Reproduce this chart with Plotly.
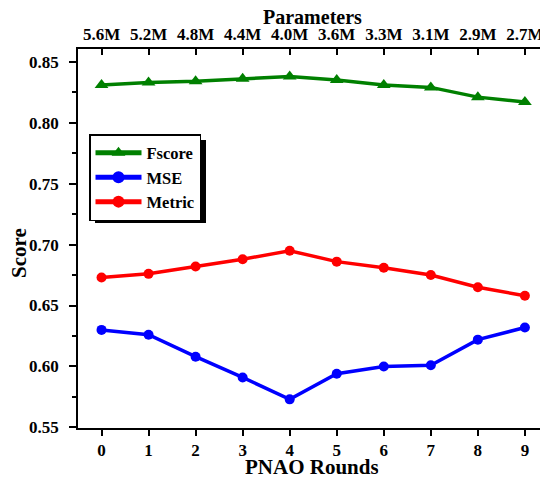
import plotly.graph_objects as go

rounds = [0, 1, 2, 3, 4, 5, 6, 7, 8, 9]
params = ["5.6M", "5.2M", "4.8M", "4.4M", "4.0M", "3.6M", "3.3M", "3.1M", "2.9M", "2.7M"]
fscore = [0.831, 0.833, 0.834, 0.836, 0.838, 0.835, 0.831, 0.829, 0.821, 0.817]
mse = [0.630, 0.626, 0.608, 0.591, 0.573, 0.594, 0.600, 0.601, 0.622, 0.632]
metric = [0.673, 0.676, 0.682, 0.688, 0.695, 0.686, 0.681, 0.675, 0.665, 0.658]
yticks = [0.55, 0.60, 0.65, 0.70, 0.75, 0.80, 0.85]

FONT = "Liberation Serif"
OFF = 8  # page body margin offset
W, H = 548 - OFF, 479 - OFF
ML, MR, MT, MB = 78 - OFF, 1, 49 - OFF, 51

fig = go.Figure()
fig.add_trace(go.Scatter(x=rounds, y=fscore, name="Fscore", mode="lines+markers",
                         line=dict(color="#008000", width=3.5),
                         marker=dict(symbol="triangle-up", size=12, color="#008000")))
fig.add_trace(go.Scatter(x=rounds, y=mse, name="MSE", mode="lines+markers",
                         line=dict(color="#0000FF", width=3.5),
                         marker=dict(symbol="circle", size=10, color="#0000FF")))
fig.add_trace(go.Scatter(x=rounds, y=metric, name="Metric", mode="lines+markers",
                         line=dict(color="#FF0000", width=3.5),
                         marker=dict(symbol="circle", size=10, color="#FF0000")))
fig.add_trace(go.Scatter(x=rounds, y=fscore, xaxis="x2", mode="markers",
                         marker=dict(opacity=0), showlegend=False, hoverinfo="skip"))

xr = [-0.5, 9.47]
pw = W - ML - MR
ph = H - MT - MB


def px_x(p):
    # p: pixel in page coords
    return (p - OFF - ML) / pw


def px_y(p):
    return (H - MB - (p - OFF)) / ph


LEG_L, LEG_T, LEG_W, LEG_H = 89, 134, 112, 84
SH = 5

tickfont = dict(family=FONT, size=17, weight="bold")
fig.update_layout(
    width=W, height=H,
    margin=dict(l=ML, r=MR, t=MT, b=MB),
    paper_bgcolor="white", plot_bgcolor="white",
    font=dict(family=FONT, size=17, color="black"),
    xaxis=dict(range=xr, tickvals=rounds, ticktext=[str(r) for r in rounds], automargin=False,
               showline=True, linecolor="black", linewidth=1.5, mirror=False,
               ticks="outside", ticklen=6, tickwidth=1.5, tickcolor="black",
               showgrid=False, zeroline=False, tickfont=tickfont),
    xaxis2=dict(range=xr, overlaying="x", side="top", tickvals=rounds, ticktext=params, automargin=False,
                showline=True, linecolor="black", linewidth=1.5,
                ticks="inside", ticklen=6, tickwidth=1.5, tickcolor="black",
                showgrid=False, zeroline=False, tickfont=tickfont),
    yaxis=dict(range=[0.5495, 0.8605], tickvals=yticks, ticktext=[f"{v:.2f}" for v in yticks],
               automargin=False, ticklabelstandoff=7,
               showline=True, linecolor="black", linewidth=1.5, mirror=True,
               ticks="outside", ticklen=7, tickwidth=1.5, tickcolor="black",
               minor=dict(ticks="outside", dtick=0.025, tick0=0.55, ticklen=4, tickwidth=1.5, tickcolor="black"),
               showgrid=False, zeroline=False, tickfont=tickfont),
    legend=dict(x=px_x(LEG_L), y=px_y(LEG_T), xanchor="left", yanchor="top",
                bgcolor="white", bordercolor="black", borderwidth=1.5,
                font=dict(family=FONT, size=16.5, weight="bold"),
                itemwidth=46, tracegroupgap=0, itemsizing="constant"),
    shapes=[dict(type="rect", xref="paper", yref="paper",
                 x0=px_x(LEG_L + SH + 1), x1=px_x(LEG_L + LEG_W + SH),
                 y0=px_y(LEG_T + LEG_H + SH), y1=px_y(LEG_T + SH + 1),
                 fillcolor="black", line=dict(width=0), layer="above")],
    annotations=[
        dict(text="<b>Parameters</b>", xref="paper", yref="paper", x=px_x(312), y=px_y(17),
             xanchor="center", yanchor="middle", showarrow=False, height=18, borderpad=0,
             font=dict(family=FONT, size=20)),
        dict(text="<b>PNAO Rounds</b>", xref="paper", yref="paper", x=px_x(312), y=px_y(467),
             xanchor="center", yanchor="middle", showarrow=False, height=18, borderpad=0,
             font=dict(family=FONT, size=21)),
        dict(text="<b>Score</b>", xref="paper", yref="paper", x=px_x(19), y=px_y(253),
             xanchor="center", yanchor="middle", showarrow=False, textangle=-90,
             font=dict(family=FONT, size=21)),
    ],
)

fig.write_html("out.html")
